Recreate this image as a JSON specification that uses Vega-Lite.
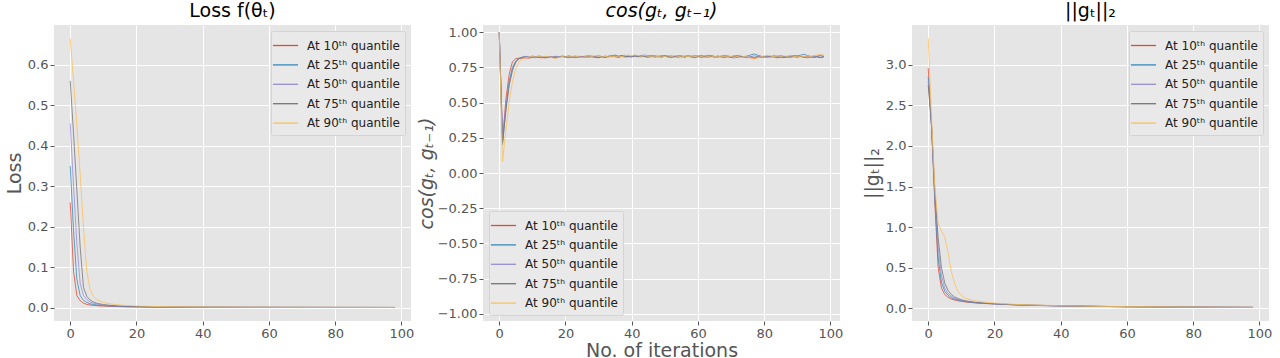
{
"$schema": "https://vega.github.io/schema/vega-lite/v6.json",
"padding": {"left": 5, "top": 2, "right": 0, "bottom": 0},
"spacing": 72,
"bounds": "flush",
"background": "white",
"config": {
  "font": "DejaVu Sans",
  "view": {"fill": "#E5E5E5", "stroke": null},
  "axis": {"grid": true, "gridColor": "#FFFFFF", "gridWidth": 1, "domain": false, "tickColor": "#555555", "tickSize": 4, "labelColor": "#555555", "labelFontSize": 13, "labelFont": "DejaVu Sans", "labelPadding": 2, "titleColor": "#555555", "titleFontSize": 19, "titleFontWeight": "normal", "titleFont": "DejaVu Sans"},
  "title": {"fontSize": 19, "font": "DejaVu Sans", "fontWeight": "normal", "color": "#000000", "offset": 4, "anchor": "middle"},
  "legend": {"fillColor": "#E9E9E9", "strokeColor": "#D4D4D4", "padding": 5, "cornerRadius": 2, "labelFontSize": 12, "labelFont": "DejaVu Sans", "labelColor": "#222222", "symbolType": "M-1.45,0H1.45", "symbolSize": 300, "symbolStrokeWidth": 1.3, "symbolOpacity": 1, "rowPadding": 3.4, "labelOffset": 12, "title": null, "offset": 6}
},
"datasets": {
"loss": [
{"q":10,"x":0,"y":0.26},{"q":10,"x":1,"y":0.09},{"q":10,"x":2,"y":0.03},{"q":10,"x":3,"y":0.017},{"q":10,"x":4,"y":0.011},{"q":10,"x":5,"y":0.008},{"q":10,"x":6,"y":0.0065},{"q":10,"x":7,"y":0.0055},{"q":10,"x":8,"y":0.0048},{"q":10,"x":9,"y":0.0043},{"q":10,"x":10,"y":0.0039},{"q":10,"x":11,"y":0.0035},{"q":10,"x":12,"y":0.0032},{"q":10,"x":14,"y":0.0027},{"q":10,"x":16,"y":0.0023},{"q":10,"x":18,"y":0.002},{"q":10,"x":20,"y":0.0018},{"q":10,"x":25,"y":0.0014},{"q":10,"x":30,"y":0.0012},{"q":10,"x":40,"y":0.0009},{"q":10,"x":50,"y":0.0007},{"q":10,"x":60,"y":0.0006},{"q":10,"x":70,"y":0.0005},{"q":10,"x":80,"y":0.0005},{"q":10,"x":90,"y":0.0004},{"q":10,"x":98,"y":0.0004},
{"q":25,"x":0,"y":0.35},{"q":25,"x":1,"y":0.19},{"q":25,"x":2,"y":0.07},{"q":25,"x":3,"y":0.03},{"q":25,"x":4,"y":0.018},{"q":25,"x":5,"y":0.013},{"q":25,"x":6,"y":0.0095},{"q":25,"x":7,"y":0.0078},{"q":25,"x":8,"y":0.0066},{"q":25,"x":9,"y":0.0057},{"q":25,"x":10,"y":0.005},{"q":25,"x":11,"y":0.0044},{"q":25,"x":12,"y":0.0039},{"q":25,"x":14,"y":0.0031},{"q":25,"x":16,"y":0.0026},{"q":25,"x":18,"y":0.0023},{"q":25,"x":20,"y":0.002},{"q":25,"x":25,"y":0.0016},{"q":25,"x":30,"y":0.0013},{"q":25,"x":40,"y":0.001},{"q":25,"x":50,"y":0.0008},{"q":25,"x":60,"y":0.0007},{"q":25,"x":70,"y":0.0006},{"q":25,"x":80,"y":0.0005},{"q":25,"x":90,"y":0.0005},{"q":25,"x":98,"y":0.0004},
{"q":50,"x":0,"y":0.455},{"q":50,"x":1,"y":0.3},{"q":50,"x":2,"y":0.16},{"q":50,"x":3,"y":0.06},{"q":50,"x":4,"y":0.03},{"q":50,"x":5,"y":0.02},{"q":50,"x":6,"y":0.014},{"q":50,"x":7,"y":0.011},{"q":50,"x":8,"y":0.0088},{"q":50,"x":9,"y":0.0073},{"q":50,"x":10,"y":0.0062},{"q":50,"x":11,"y":0.0054},{"q":50,"x":12,"y":0.0047},{"q":50,"x":14,"y":0.0037},{"q":50,"x":16,"y":0.0031},{"q":50,"x":18,"y":0.0026},{"q":50,"x":20,"y":0.0023},{"q":50,"x":25,"y":0.0018},{"q":50,"x":30,"y":0.0014},{"q":50,"x":40,"y":0.0011},{"q":50,"x":50,"y":0.0009},{"q":50,"x":60,"y":0.0007},{"q":50,"x":70,"y":0.0006},{"q":50,"x":80,"y":0.0005},{"q":50,"x":90,"y":0.0005},{"q":50,"x":98,"y":0.0004},
{"q":75,"x":0,"y":0.56},{"q":75,"x":1,"y":0.43},{"q":75,"x":2,"y":0.29},{"q":75,"x":3,"y":0.15},{"q":75,"x":4,"y":0.05},{"q":75,"x":5,"y":0.028},{"q":75,"x":6,"y":0.019},{"q":75,"x":7,"y":0.014},{"q":75,"x":8,"y":0.011},{"q":75,"x":9,"y":0.0092},{"q":75,"x":10,"y":0.0078},{"q":75,"x":11,"y":0.0067},{"q":75,"x":12,"y":0.0058},{"q":75,"x":14,"y":0.0045},{"q":75,"x":16,"y":0.0037},{"q":75,"x":18,"y":0.0031},{"q":75,"x":20,"y":0.0027},{"q":75,"x":25,"y":0.002},{"q":75,"x":30,"y":0.0016},{"q":75,"x":40,"y":0.0012},{"q":75,"x":50,"y":0.0009},{"q":75,"x":60,"y":0.0008},{"q":75,"x":70,"y":0.0007},{"q":75,"x":80,"y":0.0006},{"q":75,"x":90,"y":0.0005},{"q":75,"x":98,"y":0.0005},
{"q":90,"x":0,"y":0.665},{"q":90,"x":1,"y":0.56},{"q":90,"x":2,"y":0.45},{"q":90,"x":3,"y":0.33},{"q":90,"x":4,"y":0.2},{"q":90,"x":5,"y":0.09},{"q":90,"x":6,"y":0.045},{"q":90,"x":7,"y":0.028},{"q":90,"x":8,"y":0.02},{"q":90,"x":9,"y":0.016},{"q":90,"x":10,"y":0.013},{"q":90,"x":11,"y":0.011},{"q":90,"x":12,"y":0.0095},{"q":90,"x":14,"y":0.0074},{"q":90,"x":16,"y":0.006},{"q":90,"x":18,"y":0.005},{"q":90,"x":20,"y":0.0042},{"q":90,"x":25,"y":0.003},{"q":90,"x":30,"y":0.0023},{"q":90,"x":40,"y":0.0015},{"q":90,"x":50,"y":0.0011},{"q":90,"x":60,"y":0.0009},{"q":90,"x":70,"y":0.0008},{"q":90,"x":80,"y":0.0007},{"q":90,"x":90,"y":0.0006},{"q":90,"x":98,"y":0.0005}
],
"gn": [
{"q":10,"x":0,"y":2.96},{"q":10,"x":1,"y":2.25},{"q":10,"x":2,"y":1.3},{"q":10,"x":3,"y":0.5},{"q":10,"x":4,"y":0.25},{"q":10,"x":5,"y":0.17},{"q":10,"x":6,"y":0.135},{"q":10,"x":7,"y":0.115},{"q":10,"x":8,"y":0.102},{"q":10,"x":9,"y":0.093},{"q":10,"x":10,"y":0.086},{"q":10,"x":11,"y":0.08},{"q":10,"x":12,"y":0.075},{"q":10,"x":14,"y":0.068},{"q":10,"x":16,"y":0.062},{"q":10,"x":18,"y":0.058},{"q":10,"x":20,"y":0.054},{"q":10,"x":25,"y":0.045},{"q":10,"x":30,"y":0.038},{"q":10,"x":40,"y":0.03},{"q":10,"x":50,"y":0.024},{"q":10,"x":60,"y":0.02},{"q":10,"x":70,"y":0.017},{"q":10,"x":80,"y":0.015},{"q":10,"x":90,"y":0.013},{"q":10,"x":98,"y":0.012},
{"q":25,"x":0,"y":2.85},{"q":25,"x":1,"y":2.25},{"q":25,"x":2,"y":1.35},{"q":25,"x":3,"y":0.62},{"q":25,"x":4,"y":0.32},{"q":25,"x":5,"y":0.21},{"q":25,"x":6,"y":0.16},{"q":25,"x":7,"y":0.13},{"q":25,"x":8,"y":0.113},{"q":25,"x":9,"y":0.101},{"q":25,"x":10,"y":0.092},{"q":25,"x":11,"y":0.085},{"q":25,"x":12,"y":0.079},{"q":25,"x":14,"y":0.07},{"q":25,"x":16,"y":0.064},{"q":25,"x":18,"y":0.059},{"q":25,"x":20,"y":0.055},{"q":25,"x":25,"y":0.046},{"q":25,"x":30,"y":0.039},{"q":25,"x":40,"y":0.03},{"q":25,"x":50,"y":0.024},{"q":25,"x":60,"y":0.02},{"q":25,"x":70,"y":0.017},{"q":25,"x":80,"y":0.015},{"q":25,"x":90,"y":0.013},{"q":25,"x":98,"y":0.012},
{"q":50,"x":0,"y":2.8},{"q":50,"x":1,"y":2.25},{"q":50,"x":2,"y":1.4},{"q":50,"x":3,"y":0.75},{"q":50,"x":4,"y":0.4},{"q":50,"x":5,"y":0.25},{"q":50,"x":6,"y":0.185},{"q":50,"x":7,"y":0.148},{"q":50,"x":8,"y":0.125},{"q":50,"x":9,"y":0.11},{"q":50,"x":10,"y":0.099},{"q":50,"x":11,"y":0.09},{"q":50,"x":12,"y":0.083},{"q":50,"x":14,"y":0.073},{"q":50,"x":16,"y":0.066},{"q":50,"x":18,"y":0.06},{"q":50,"x":20,"y":0.056},{"q":50,"x":25,"y":0.047},{"q":50,"x":30,"y":0.039},{"q":50,"x":40,"y":0.031},{"q":50,"x":50,"y":0.025},{"q":50,"x":60,"y":0.02},{"q":50,"x":70,"y":0.017},{"q":50,"x":80,"y":0.015},{"q":50,"x":90,"y":0.013},{"q":50,"x":98,"y":0.012},
{"q":75,"x":0,"y":2.75},{"q":75,"x":1,"y":2.25},{"q":75,"x":2,"y":1.45},{"q":75,"x":3,"y":0.87},{"q":75,"x":4,"y":0.5},{"q":75,"x":5,"y":0.31},{"q":75,"x":6,"y":0.22},{"q":75,"x":7,"y":0.17},{"q":75,"x":8,"y":0.14},{"q":75,"x":9,"y":0.12},{"q":75,"x":10,"y":0.106},{"q":75,"x":11,"y":0.096},{"q":75,"x":12,"y":0.088},{"q":75,"x":14,"y":0.076},{"q":75,"x":16,"y":0.068},{"q":75,"x":18,"y":0.062},{"q":75,"x":20,"y":0.057},{"q":75,"x":25,"y":0.047},{"q":75,"x":30,"y":0.04},{"q":75,"x":40,"y":0.031},{"q":75,"x":50,"y":0.025},{"q":75,"x":60,"y":0.02},{"q":75,"x":70,"y":0.017},{"q":75,"x":80,"y":0.015},{"q":75,"x":90,"y":0.013},{"q":75,"x":98,"y":0.012},
{"q":90,"x":0,"y":3.33},{"q":90,"x":1,"y":2.35},{"q":90,"x":2,"y":1.5},{"q":90,"x":3,"y":1.05},{"q":90,"x":4,"y":0.95},{"q":90,"x":5,"y":0.88},{"q":90,"x":6,"y":0.68},{"q":90,"x":7,"y":0.45},{"q":90,"x":8,"y":0.3},{"q":90,"x":9,"y":0.21},{"q":90,"x":10,"y":0.16},{"q":90,"x":11,"y":0.13},{"q":90,"x":12,"y":0.115},{"q":90,"x":14,"y":0.095},{"q":90,"x":16,"y":0.082},{"q":90,"x":18,"y":0.072},{"q":90,"x":20,"y":0.065},{"q":90,"x":25,"y":0.052},{"q":90,"x":30,"y":0.043},{"q":90,"x":40,"y":0.033},{"q":90,"x":50,"y":0.026},{"q":90,"x":60,"y":0.021},{"q":90,"x":70,"y":0.018},{"q":90,"x":80,"y":0.015},{"q":90,"x":90,"y":0.013},{"q":90,"x":98,"y":0.012}
],
"cos": [
{"q":10,"x":0,"y":1.0},{"q":10,"x":1,"y":0.22},{"q":10,"x":2,"y":0.52},{"q":10,"x":3,"y":0.7},{"q":10,"x":4,"y":0.79},{"q":10,"x":5,"y":0.812},{"q":10,"x":6,"y":0.815},{"q":10,"x":7,"y":0.814},{"q":10,"x":8,"y":0.816},{"q":10,"x":9,"y":0.815},
{"q":10,"x":10,"y":0.82},{"q":10,"x":11,"y":0.818},{"q":10,"x":12,"y":0.822},{"q":10,"x":13,"y":0.816},{"q":10,"x":14,"y":0.824},{"q":10,"x":15,"y":0.82},{"q":10,"x":16,"y":0.826},{"q":10,"x":17,"y":0.818},{"q":10,"x":18,"y":0.823},{"q":10,"x":19,"y":0.827},
{"q":10,"x":20,"y":0.821},{"q":10,"x":21,"y":0.825},{"q":10,"x":22,"y":0.819},{"q":10,"x":23,"y":0.826},{"q":10,"x":24,"y":0.822},{"q":10,"x":25,"y":0.828},{"q":10,"x":26,"y":0.821},{"q":10,"x":27,"y":0.825},{"q":10,"x":28,"y":0.83},{"q":10,"x":29,"y":0.823},
{"q":10,"x":30,"y":0.819},{"q":10,"x":31,"y":0.826},{"q":10,"x":32,"y":0.822},{"q":10,"x":33,"y":0.828},{"q":10,"x":34,"y":0.824},{"q":10,"x":35,"y":0.83},{"q":10,"x":36,"y":0.826},{"q":10,"x":37,"y":0.833},{"q":10,"x":38,"y":0.827},{"q":10,"x":39,"y":0.831},
{"q":10,"x":40,"y":0.825},{"q":10,"x":41,"y":0.832},{"q":10,"x":42,"y":0.828},{"q":10,"x":43,"y":0.835},{"q":10,"x":44,"y":0.829},{"q":10,"x":45,"y":0.833},{"q":10,"x":46,"y":0.826},{"q":10,"x":47,"y":0.831},{"q":10,"x":48,"y":0.827},{"q":10,"x":49,"y":0.834},
{"q":10,"x":50,"y":0.828},{"q":10,"x":51,"y":0.824},{"q":10,"x":52,"y":0.83},{"q":10,"x":53,"y":0.826},{"q":10,"x":54,"y":0.833},{"q":10,"x":55,"y":0.828},{"q":10,"x":56,"y":0.823},{"q":10,"x":57,"y":0.829},{"q":10,"x":58,"y":0.825},{"q":10,"x":59,"y":0.832},
{"q":10,"x":60,"y":0.827},{"q":10,"x":61,"y":0.834},{"q":10,"x":62,"y":0.829},{"q":10,"x":63,"y":0.825},{"q":10,"x":64,"y":0.831},{"q":10,"x":65,"y":0.826},{"q":10,"x":66,"y":0.822},{"q":10,"x":67,"y":0.829},{"q":10,"x":68,"y":0.824},{"q":10,"x":69,"y":0.83},
{"q":10,"x":70,"y":0.826},{"q":10,"x":71,"y":0.832},{"q":10,"x":72,"y":0.827},{"q":10,"x":73,"y":0.821},{"q":10,"x":74,"y":0.828},{"q":10,"x":75,"y":0.823},{"q":10,"x":76,"y":0.818},{"q":10,"x":77,"y":0.812},{"q":10,"x":78,"y":0.82},{"q":10,"x":79,"y":0.826},
{"q":10,"x":80,"y":0.821},{"q":10,"x":81,"y":0.828},{"q":10,"x":82,"y":0.823},{"q":10,"x":83,"y":0.829},{"q":10,"x":84,"y":0.824},{"q":10,"x":85,"y":0.82},{"q":10,"x":86,"y":0.827},{"q":10,"x":87,"y":0.822},{"q":10,"x":88,"y":0.829},{"q":10,"x":89,"y":0.825},
{"q":10,"x":90,"y":0.831},{"q":10,"x":91,"y":0.826},{"q":10,"x":92,"y":0.822},{"q":10,"x":93,"y":0.828},{"q":10,"x":94,"y":0.824},{"q":10,"x":95,"y":0.83},{"q":10,"x":96,"y":0.825},{"q":10,"x":97,"y":0.819},{"q":10,"x":98,"y":0.826},
{"q":25,"x":0,"y":1.0},{"q":25,"x":1,"y":0.2},{"q":25,"x":2,"y":0.45},{"q":25,"x":3,"y":0.65},{"q":25,"x":4,"y":0.75},{"q":25,"x":5,"y":0.795},{"q":25,"x":6,"y":0.812},{"q":25,"x":7,"y":0.82},{"q":25,"x":8,"y":0.826},{"q":25,"x":9,"y":0.822},
{"q":25,"x":10,"y":0.828},{"q":25,"x":11,"y":0.823},{"q":25,"x":12,"y":0.819},{"q":25,"x":13,"y":0.826},{"q":25,"x":14,"y":0.821},{"q":25,"x":15,"y":0.827},{"q":25,"x":16,"y":0.82},{"q":25,"x":17,"y":0.816},{"q":25,"x":18,"y":0.824},{"q":25,"x":19,"y":0.829},
{"q":25,"x":20,"y":0.823},{"q":25,"x":21,"y":0.818},{"q":25,"x":22,"y":0.825},{"q":25,"x":23,"y":0.83},{"q":25,"x":24,"y":0.824},{"q":25,"x":25,"y":0.82},{"q":25,"x":26,"y":0.827},{"q":25,"x":27,"y":0.832},{"q":25,"x":28,"y":0.826},{"q":25,"x":29,"y":0.821},
{"q":25,"x":30,"y":0.828},{"q":25,"x":31,"y":0.823},{"q":25,"x":32,"y":0.83},{"q":25,"x":33,"y":0.825},{"q":25,"x":34,"y":0.831},{"q":25,"x":35,"y":0.837},{"q":25,"x":36,"y":0.829},{"q":25,"x":37,"y":0.834},{"q":25,"x":38,"y":0.828},{"q":25,"x":39,"y":0.823},
{"q":25,"x":40,"y":0.83},{"q":25,"x":41,"y":0.835},{"q":25,"x":42,"y":0.829},{"q":25,"x":43,"y":0.824},{"q":25,"x":44,"y":0.831},{"q":25,"x":45,"y":0.826},{"q":25,"x":46,"y":0.833},{"q":25,"x":47,"y":0.828},{"q":25,"x":48,"y":0.823},{"q":25,"x":49,"y":0.829},
{"q":25,"x":50,"y":0.834},{"q":25,"x":51,"y":0.828},{"q":25,"x":52,"y":0.823},{"q":25,"x":53,"y":0.83},{"q":25,"x":54,"y":0.825},{"q":25,"x":55,"y":0.831},{"q":25,"x":56,"y":0.826},{"q":25,"x":57,"y":0.832},{"q":25,"x":58,"y":0.827},{"q":25,"x":59,"y":0.822},
{"q":25,"x":60,"y":0.829},{"q":25,"x":61,"y":0.824},{"q":25,"x":62,"y":0.83},{"q":25,"x":63,"y":0.835},{"q":25,"x":64,"y":0.829},{"q":25,"x":65,"y":0.824},{"q":25,"x":66,"y":0.83},{"q":25,"x":67,"y":0.825},{"q":25,"x":68,"y":0.832},{"q":25,"x":69,"y":0.827},
{"q":25,"x":70,"y":0.821},{"q":25,"x":71,"y":0.828},{"q":25,"x":72,"y":0.834},{"q":25,"x":73,"y":0.828},{"q":25,"x":74,"y":0.823},{"q":25,"x":75,"y":0.83},{"q":25,"x":76,"y":0.838},{"q":25,"x":77,"y":0.845},{"q":25,"x":78,"y":0.836},{"q":25,"x":79,"y":0.829},
{"q":25,"x":80,"y":0.824},{"q":25,"x":81,"y":0.83},{"q":25,"x":82,"y":0.825},{"q":25,"x":83,"y":0.831},{"q":25,"x":84,"y":0.826},{"q":25,"x":85,"y":0.832},{"q":25,"x":86,"y":0.827},{"q":25,"x":87,"y":0.822},{"q":25,"x":88,"y":0.828},{"q":25,"x":89,"y":0.834},
{"q":25,"x":90,"y":0.829},{"q":25,"x":91,"y":0.836},{"q":25,"x":92,"y":0.842},{"q":25,"x":93,"y":0.834},{"q":25,"x":94,"y":0.828},{"q":25,"x":95,"y":0.823},{"q":25,"x":96,"y":0.829},{"q":25,"x":97,"y":0.834},{"q":25,"x":98,"y":0.827},
{"q":50,"x":0,"y":1.0},{"q":50,"x":1,"y":0.26},{"q":50,"x":2,"y":0.47},{"q":50,"x":3,"y":0.63},{"q":50,"x":4,"y":0.73},{"q":50,"x":5,"y":0.785},{"q":50,"x":6,"y":0.81},{"q":50,"x":7,"y":0.824},{"q":50,"x":8,"y":0.828},{"q":50,"x":9,"y":0.823},
{"q":50,"x":10,"y":0.83},{"q":50,"x":11,"y":0.825},{"q":50,"x":12,"y":0.831},{"q":50,"x":13,"y":0.826},{"q":50,"x":14,"y":0.82},{"q":50,"x":15,"y":0.827},{"q":50,"x":16,"y":0.822},{"q":50,"x":17,"y":0.829},{"q":50,"x":18,"y":0.824},{"q":50,"x":19,"y":0.83},
{"q":50,"x":20,"y":0.826},{"q":50,"x":21,"y":0.832},{"q":50,"x":22,"y":0.827},{"q":50,"x":23,"y":0.822},{"q":50,"x":24,"y":0.829},{"q":50,"x":25,"y":0.824},{"q":50,"x":26,"y":0.83},{"q":50,"x":27,"y":0.826},{"q":50,"x":28,"y":0.821},{"q":50,"x":29,"y":0.828},
{"q":50,"x":30,"y":0.833},{"q":50,"x":31,"y":0.827},{"q":50,"x":32,"y":0.822},{"q":50,"x":33,"y":0.829},{"q":50,"x":34,"y":0.835},{"q":50,"x":35,"y":0.829},{"q":50,"x":36,"y":0.824},{"q":50,"x":37,"y":0.83},{"q":50,"x":38,"y":0.836},{"q":50,"x":39,"y":0.83},
{"q":50,"x":40,"y":0.825},{"q":50,"x":41,"y":0.831},{"q":50,"x":42,"y":0.826},{"q":50,"x":43,"y":0.832},{"q":50,"x":44,"y":0.838},{"q":50,"x":45,"y":0.831},{"q":50,"x":46,"y":0.826},{"q":50,"x":47,"y":0.832},{"q":50,"x":48,"y":0.827},{"q":50,"x":49,"y":0.822},
{"q":50,"x":50,"y":0.829},{"q":50,"x":51,"y":0.834},{"q":50,"x":52,"y":0.828},{"q":50,"x":53,"y":0.823},{"q":50,"x":54,"y":0.829},{"q":50,"x":55,"y":0.824},{"q":50,"x":56,"y":0.831},{"q":50,"x":57,"y":0.826},{"q":50,"x":58,"y":0.832},{"q":50,"x":59,"y":0.827},
{"q":50,"x":60,"y":0.833},{"q":50,"x":61,"y":0.828},{"q":50,"x":62,"y":0.822},{"q":50,"x":63,"y":0.829},{"q":50,"x":64,"y":0.834},{"q":50,"x":65,"y":0.828},{"q":50,"x":66,"y":0.823},{"q":50,"x":67,"y":0.829},{"q":50,"x":68,"y":0.835},{"q":50,"x":69,"y":0.829},
{"q":50,"x":70,"y":0.822},{"q":50,"x":71,"y":0.815},{"q":50,"x":72,"y":0.823},{"q":50,"x":73,"y":0.829},{"q":50,"x":74,"y":0.824},{"q":50,"x":75,"y":0.831},{"q":50,"x":76,"y":0.826},{"q":50,"x":77,"y":0.832},{"q":50,"x":78,"y":0.827},{"q":50,"x":79,"y":0.822},
{"q":50,"x":80,"y":0.829},{"q":50,"x":81,"y":0.824},{"q":50,"x":82,"y":0.83},{"q":50,"x":83,"y":0.825},{"q":50,"x":84,"y":0.831},{"q":50,"x":85,"y":0.826},{"q":50,"x":86,"y":0.821},{"q":50,"x":87,"y":0.828},{"q":50,"x":88,"y":0.833},{"q":50,"x":89,"y":0.827},
{"q":50,"x":90,"y":0.822},{"q":50,"x":91,"y":0.829},{"q":50,"x":92,"y":0.824},{"q":50,"x":93,"y":0.83},{"q":50,"x":94,"y":0.825},{"q":50,"x":95,"y":0.831},{"q":50,"x":96,"y":0.826},{"q":50,"x":97,"y":0.832},{"q":50,"x":98,"y":0.828},
{"q":75,"x":0,"y":1.0},{"q":75,"x":1,"y":0.22},{"q":75,"x":2,"y":0.44},{"q":75,"x":3,"y":0.62},{"q":75,"x":4,"y":0.73},{"q":75,"x":5,"y":0.79},{"q":75,"x":6,"y":0.812},{"q":75,"x":7,"y":0.82},{"q":75,"x":8,"y":0.823},{"q":75,"x":9,"y":0.818},
{"q":75,"x":10,"y":0.825},{"q":75,"x":11,"y":0.82},{"q":75,"x":12,"y":0.826},{"q":75,"x":13,"y":0.821},{"q":75,"x":14,"y":0.816},{"q":75,"x":15,"y":0.823},{"q":75,"x":16,"y":0.818},{"q":75,"x":17,"y":0.825},{"q":75,"x":18,"y":0.82},{"q":75,"x":19,"y":0.827},
{"q":75,"x":20,"y":0.822},{"q":75,"x":21,"y":0.828},{"q":75,"x":22,"y":0.823},{"q":75,"x":23,"y":0.818},{"q":75,"x":24,"y":0.825},{"q":75,"x":25,"y":0.82},{"q":75,"x":26,"y":0.826},{"q":75,"x":27,"y":0.821},{"q":75,"x":28,"y":0.827},{"q":75,"x":29,"y":0.822},
{"q":75,"x":30,"y":0.817},{"q":75,"x":31,"y":0.824},{"q":75,"x":32,"y":0.819},{"q":75,"x":33,"y":0.826},{"q":75,"x":34,"y":0.831},{"q":75,"x":35,"y":0.825},{"q":75,"x":36,"y":0.82},{"q":75,"x":37,"y":0.827},{"q":75,"x":38,"y":0.822},{"q":75,"x":39,"y":0.828},
{"q":75,"x":40,"y":0.823},{"q":75,"x":41,"y":0.829},{"q":75,"x":42,"y":0.824},{"q":75,"x":43,"y":0.83},{"q":75,"x":44,"y":0.825},{"q":75,"x":45,"y":0.82},{"q":75,"x":46,"y":0.827},{"q":75,"x":47,"y":0.822},{"q":75,"x":48,"y":0.828},{"q":75,"x":49,"y":0.823},
{"q":75,"x":50,"y":0.829},{"q":75,"x":51,"y":0.824},{"q":75,"x":52,"y":0.819},{"q":75,"x":53,"y":0.826},{"q":75,"x":54,"y":0.821},{"q":75,"x":55,"y":0.827},{"q":75,"x":56,"y":0.822},{"q":75,"x":57,"y":0.828},{"q":75,"x":58,"y":0.823},{"q":75,"x":59,"y":0.818},
{"q":75,"x":60,"y":0.825},{"q":75,"x":61,"y":0.82},{"q":75,"x":62,"y":0.826},{"q":75,"x":63,"y":0.821},{"q":75,"x":64,"y":0.827},{"q":75,"x":65,"y":0.822},{"q":75,"x":66,"y":0.828},{"q":75,"x":67,"y":0.823},{"q":75,"x":68,"y":0.818},{"q":75,"x":69,"y":0.825},
{"q":75,"x":70,"y":0.82},{"q":75,"x":71,"y":0.826},{"q":75,"x":72,"y":0.821},{"q":75,"x":73,"y":0.827},{"q":75,"x":74,"y":0.822},{"q":75,"x":75,"y":0.817},{"q":75,"x":76,"y":0.824},{"q":75,"x":77,"y":0.819},{"q":75,"x":78,"y":0.825},{"q":75,"x":79,"y":0.82},
{"q":75,"x":80,"y":0.826},{"q":75,"x":81,"y":0.821},{"q":75,"x":82,"y":0.827},{"q":75,"x":83,"y":0.822},{"q":75,"x":84,"y":0.817},{"q":75,"x":85,"y":0.824},{"q":75,"x":86,"y":0.819},{"q":75,"x":87,"y":0.825},{"q":75,"x":88,"y":0.82},{"q":75,"x":89,"y":0.826},
{"q":75,"x":90,"y":0.821},{"q":75,"x":91,"y":0.827},{"q":75,"x":92,"y":0.822},{"q":75,"x":93,"y":0.817},{"q":75,"x":94,"y":0.823},{"q":75,"x":95,"y":0.818},{"q":75,"x":96,"y":0.824},{"q":75,"x":97,"y":0.819},{"q":75,"x":98,"y":0.822},
{"q":90,"x":0,"y":1.0},{"q":90,"x":1,"y":0.08},{"q":90,"x":2,"y":0.3},{"q":90,"x":3,"y":0.5},{"q":90,"x":4,"y":0.65},{"q":90,"x":5,"y":0.74},{"q":90,"x":6,"y":0.79},{"q":90,"x":7,"y":0.81},{"q":90,"x":8,"y":0.818},{"q":90,"x":9,"y":0.822},
{"q":90,"x":10,"y":0.827},{"q":90,"x":11,"y":0.821},{"q":90,"x":12,"y":0.828},{"q":90,"x":13,"y":0.823},{"q":90,"x":14,"y":0.829},{"q":90,"x":15,"y":0.824},{"q":90,"x":16,"y":0.818},{"q":90,"x":17,"y":0.812},{"q":90,"x":18,"y":0.82},{"q":90,"x":19,"y":0.826},
{"q":90,"x":20,"y":0.821},{"q":90,"x":21,"y":0.828},{"q":90,"x":22,"y":0.823},{"q":90,"x":23,"y":0.829},{"q":90,"x":24,"y":0.824},{"q":90,"x":25,"y":0.819},{"q":90,"x":26,"y":0.826},{"q":90,"x":27,"y":0.821},{"q":90,"x":28,"y":0.827},{"q":90,"x":29,"y":0.833},
{"q":90,"x":30,"y":0.827},{"q":90,"x":31,"y":0.822},{"q":90,"x":32,"y":0.828},{"q":90,"x":33,"y":0.823},{"q":90,"x":34,"y":0.829},{"q":90,"x":35,"y":0.824},{"q":90,"x":36,"y":0.83},{"q":90,"x":37,"y":0.825},{"q":90,"x":38,"y":0.831},{"q":90,"x":39,"y":0.837},
{"q":90,"x":40,"y":0.832},{"q":90,"x":41,"y":0.838},{"q":90,"x":42,"y":0.833},{"q":90,"x":43,"y":0.828},{"q":90,"x":44,"y":0.834},{"q":90,"x":45,"y":0.829},{"q":90,"x":46,"y":0.823},{"q":90,"x":47,"y":0.83},{"q":90,"x":48,"y":0.825},{"q":90,"x":49,"y":0.831},
{"q":90,"x":50,"y":0.826},{"q":90,"x":51,"y":0.832},{"q":90,"x":52,"y":0.827},{"q":90,"x":53,"y":0.833},{"q":90,"x":54,"y":0.828},{"q":90,"x":55,"y":0.823},{"q":90,"x":56,"y":0.829},{"q":90,"x":57,"y":0.824},{"q":90,"x":58,"y":0.83},{"q":90,"x":59,"y":0.825},
{"q":90,"x":60,"y":0.831},{"q":90,"x":61,"y":0.826},{"q":90,"x":62,"y":0.832},{"q":90,"x":63,"y":0.827},{"q":90,"x":64,"y":0.822},{"q":90,"x":65,"y":0.828},{"q":90,"x":66,"y":0.823},{"q":90,"x":67,"y":0.829},{"q":90,"x":68,"y":0.824},{"q":90,"x":69,"y":0.83},
{"q":90,"x":70,"y":0.825},{"q":90,"x":71,"y":0.831},{"q":90,"x":72,"y":0.826},{"q":90,"x":73,"y":0.82},{"q":90,"x":74,"y":0.827},{"q":90,"x":75,"y":0.822},{"q":90,"x":76,"y":0.815},{"q":90,"x":77,"y":0.809},{"q":90,"x":78,"y":0.816},{"q":90,"x":79,"y":0.823},
{"q":90,"x":80,"y":0.829},{"q":90,"x":81,"y":0.836},{"q":90,"x":82,"y":0.83},{"q":90,"x":83,"y":0.825},{"q":90,"x":84,"y":0.831},{"q":90,"x":85,"y":0.826},{"q":90,"x":86,"y":0.832},{"q":90,"x":87,"y":0.827},{"q":90,"x":88,"y":0.833},{"q":90,"x":89,"y":0.828},
{"q":90,"x":90,"y":0.823},{"q":90,"x":91,"y":0.83},{"q":90,"x":92,"y":0.825},{"q":90,"x":93,"y":0.831},{"q":90,"x":94,"y":0.826},{"q":90,"x":95,"y":0.832},{"q":90,"x":96,"y":0.838},{"q":90,"x":97,"y":0.843},{"q":90,"x":98,"y":0.836}
]
},
"hconcat": [
{
  "width": 357, "height": 296,
  "data": {"name": "loss"},
  "title": {"text": "Loss f(θₜ)"},
  "mark": {"type": "line", "strokeWidth": 1, "opacity": 0.8, "clip": true},
  "encoding": {
    "x": {"field": "x", "type": "quantitative", "scale": {"domain": [-4.9, 102.9], "nice": false, "zero": false}, "axis": {"values": [0, 20, 40, 60, 80, 100], "title": null}},
    "y": {"field": "y", "type": "quantitative", "scale": {"domain": [-0.033, 0.698], "nice": false, "zero": false}, "axis": {"values": [0, 0.1, 0.2, 0.3, 0.4, 0.5, 0.6, 0.7], "format": ".1f", "title": "Loss", "titlePadding": 3}},
    "color": {"field": "q", "type": "nominal", "scale": {"domain": [10, 25, 50, 75, 90], "range": ["#E24A33", "#348ABD", "#988ED5", "#777777", "#FBC15E"]}, "legend": {"orient": "top-right", "labelExpr": "'At ' + datum.label + 'ᵗʰ quantile'"}}
  }
},
{
  "width": 357, "height": 296,
  "data": {"name": "cos"},
  "title": {"text": "cos(gₜ, gₜ₋₁)", "fontStyle": "italic"},
  "mark": {"type": "line", "strokeWidth": 1, "opacity": 0.8, "clip": true},
  "encoding": {
    "x": {"field": "x", "type": "quantitative", "scale": {"domain": [-4.9, 102.9], "nice": false, "zero": false}, "axis": {"values": [0, 20, 40, 60, 80, 100], "title": "No. of iterations", "titlePadding": 1}},
    "y": {"field": "y", "type": "quantitative", "scale": {"domain": [-1.05, 1.05], "nice": false, "zero": false}, "axis": {"values": [-1, -0.75, -0.5, -0.25, 0, 0.25, 0.5, 0.75, 1], "format": ".2f", "title": "cos(gₜ, gₜ₋₁)", "titleFontStyle": "italic", "titlePadding": 1}},
    "color": {"field": "q", "type": "nominal", "scale": {"domain": [10, 25, 50, 75, 90], "range": ["#E24A33", "#348ABD", "#988ED5", "#777777", "#FBC15E"]}, "legend": {"orient": "bottom-left", "labelExpr": "'At ' + datum.label + 'ᵗʰ quantile'"}}
  }
},
{
  "width": 357, "height": 296,
  "data": {"name": "gn"},
  "title": {"text": "||gₜ||₂"},
  "mark": {"type": "line", "strokeWidth": 1, "opacity": 0.8, "clip": true},
  "encoding": {
    "x": {"field": "x", "type": "quantitative", "scale": {"domain": [-4.9, 102.9], "nice": false, "zero": false}, "axis": {"values": [0, 20, 40, 60, 80, 100], "title": null}},
    "y": {"field": "y", "type": "quantitative", "scale": {"domain": [-0.156, 3.49], "nice": false, "zero": false}, "axis": {"values": [0, 0.5, 1, 1.5, 2, 2.5, 3], "format": ".1f", "title": "||gₜ||₂", "titlePadding": 3}},
    "color": {"field": "q", "type": "nominal", "scale": {"domain": [10, 25, 50, 75, 90], "range": ["#E24A33", "#348ABD", "#988ED5", "#777777", "#FBC15E"]}, "legend": {"orient": "top-right", "labelExpr": "'At ' + datum.label + 'ᵗʰ quantile'"}}
  }
}
],
"resolve": {"scale": {"x": "independent", "y": "independent", "color": "independent"}, "legend": {"color": "independent"}}
}
